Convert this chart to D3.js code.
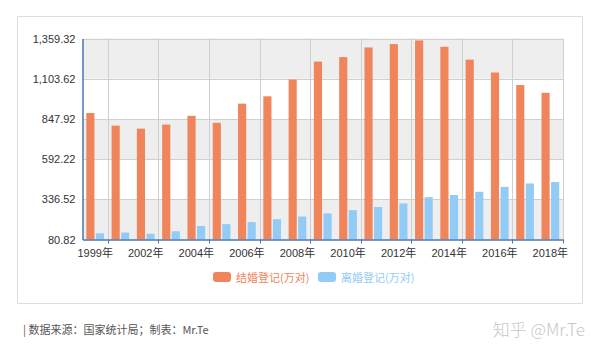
<!DOCTYPE html>
<html lang="zh">
<head>
<meta charset="UTF-8">
<title>结婚登记与离婚登记</title>
<script src="https://d3js.org/d3.v7.min.js"></script>
<style>
  body { margin: 0; background: #fff; }
  svg { display: block; }
  .tick text { font-family: "Liberation Sans", Arial, "Noto Sans CJK SC", sans-serif; font-size: 11px; fill: #333; }
</style>
</head>
<body>
<svg id="chart" width="600" height="356"></svg>
<script>
// data (万对), 2000 is missing in the source
const years = [1999, 2001, 2002, 2003, 2004, 2005, 2006, 2007, 2008, 2009,
               2010, 2011, 2012, 2013, 2014, 2015, 2016, 2017, 2018];
const marriages = [885.3, 805.0, 786.0, 811.4, 867.2, 823.1, 945.0, 991.4, 1098.3, 1212.4,
                   1241.0, 1302.4, 1323.6, 1346.9, 1306.7, 1224.7, 1142.8, 1063.1, 1013.9];
const divorces = [120.2, 125.1, 117.7, 133.0, 166.5, 178.5, 191.3, 209.8, 226.9, 246.8,
                  267.8, 287.4, 310.4, 350.0, 363.7, 384.1, 415.8, 437.4, 446.1];
const yTicks = [80.82, 336.52, 592.22, 847.92, 1103.62, 1359.32];
const xLabelYears = [1999, 2002, 2004, 2006, 2008, 2010, 2012, 2014, 2016, 2018];
const seriesNames = ["结婚登记(万对)", "离婚登记(万对)"];

const colors = ["#f0845a", "#92cbf5"];
const axisColor = "#4a78b0";

const svg = d3.select("#chart");

// outer frame
svg.append("rect")
  .attr("x", 17.5).attr("y", 16.5)
  .attr("width", 565).attr("height", 287)
  .attr("fill", "#fff")
  .attr("stroke", "#dedede");

const plotLeft = 82.5, plotRight = 563, plotTop = 38.5, plotBottom = 239.5;

const y = d3.scaleLinear().domain([yTicks[0], yTicks[yTicks.length - 1]]).range([plotBottom, plotTop]);
const xCell = d3.scaleBand().domain(years).range([plotLeft, plotRight]);
const x0 = d3.scaleBand().domain(years).range([plotLeft, plotRight]).paddingInner(0.3).paddingOuter(0.15);
const x1 = d3.scaleBand().domain([0, 1]).range([0, x0.bandwidth()]).paddingInner(0.15);

// alternating bands
const bands = svg.append("g");
for (let i = 0; i < yTicks.length - 1; i++) {
  bands.append("rect")
    .attr("x", plotLeft).attr("width", plotRight - plotLeft)
    .attr("y", y(yTicks[i + 1])).attr("height", y(yTicks[i]) - y(yTicks[i + 1]))
    .attr("fill", i % 2 === 0 ? "#eeeeee" : "#ffffff");
}

// horizontal gridlines
svg.append("g").selectAll("line").data(yTicks.slice(1)).join("line")
  .attr("x1", plotLeft).attr("x2", plotRight)
  .attr("y1", d => Math.round(y(d)) + 0.5).attr("y2", d => Math.round(y(d)) + 0.5)
  .attr("stroke", "#d0d0d0");

// vertical gridlines at right edge of every labelled cell
const bounds = xLabelYears.map(yr => xCell(yr) + xCell.bandwidth());
svg.append("g").selectAll("line").data(bounds).join("line")
  .attr("x1", d => Math.round(d) + 0.5).attr("x2", d => Math.round(d) + 0.5)
  .attr("y1", plotTop).attr("y2", plotBottom)
  .attr("stroke", "#d0d0d0");

// bars
const groups = svg.append("g").selectAll("g").data(years).join("g")
  .attr("transform", d => "translate(" + x0(d) + ",0)");
groups.selectAll("rect").data((d, i) => [marriages[i], divorces[i]]).join("rect")
  .attr("x", (d, j) => x1(j))
  .attr("width", x1.bandwidth())
  .attr("y", d => y(d))
  .attr("height", d => plotBottom - y(d))
  .attr("fill", (d, j) => colors[j]);

// y axis
const yAxis = svg.append("g")
  .attr("transform", "translate(" + plotLeft + ",0)")
  .call(d3.axisLeft(y).tickValues(yTicks).tickSize(0).tickPadding(7).tickFormat(d3.format(",.2f")));
yAxis.select(".domain").attr("stroke", axisColor).attr("stroke-width", 1.5);

// x axis: labels at cell centres, ticks on cell edges
const xAxis = svg.append("g")
  .attr("transform", "translate(0," + plotBottom + ")")
  .call(d3.axisBottom(xCell).tickValues(xLabelYears).tickSize(0).tickPadding(9).tickFormat(d => d + "年"));
xAxis.select(".domain").attr("stroke", axisColor).attr("stroke-width", 1.5);
xAxis.selectAll(".tick text").attr("dy", "0.8em");
svg.append("g").selectAll("line").data(bounds).join("line")
  .attr("x1", d => Math.round(d) + 0.5).attr("x2", d => Math.round(d) + 0.5)
  .attr("y1", plotBottom).attr("y2", plotBottom + 4)
  .attr("stroke", axisColor);

// legend
const legend = svg.append("g").selectAll("g").data(seriesNames).join("g")
  .attr("transform", (d, i) => "translate(" + (213 + i * 105) + ",272)");
legend.append("rect")
  .attr("width", 18).attr("height", 10).attr("rx", 3)
  .attr("fill", (d, i) => colors[i]);
legend.append("text")
  .attr("x", 23).attr("y", 9.5)
  .attr("font-family", "'Noto Sans CJK SC', sans-serif")
  .attr("font-size", 11)
  .attr("fill", (d, i) => colors[i])
  .text(d => d);

// footer
svg.append("text")
  .attr("x", 23).attr("y", 334)
  .attr("font-family", "'Noto Sans CJK SC', sans-serif")
  .attr("font-size", 11)
  .attr("fill", "#555")
  .text("| 数据来源：国家统计局；制表：Mr.Te");

svg.append("text")
  .attr("x", 585).attr("y", 336)
  .attr("text-anchor", "end")
  .attr("font-family", "'Noto Sans CJK SC', sans-serif")
  .attr("font-weight", 300)
  .attr("font-size", 17)
  .attr("fill", "#c8c8c8")
  .text("知乎 @Mr.Te");
</script>
</body>
</html>
